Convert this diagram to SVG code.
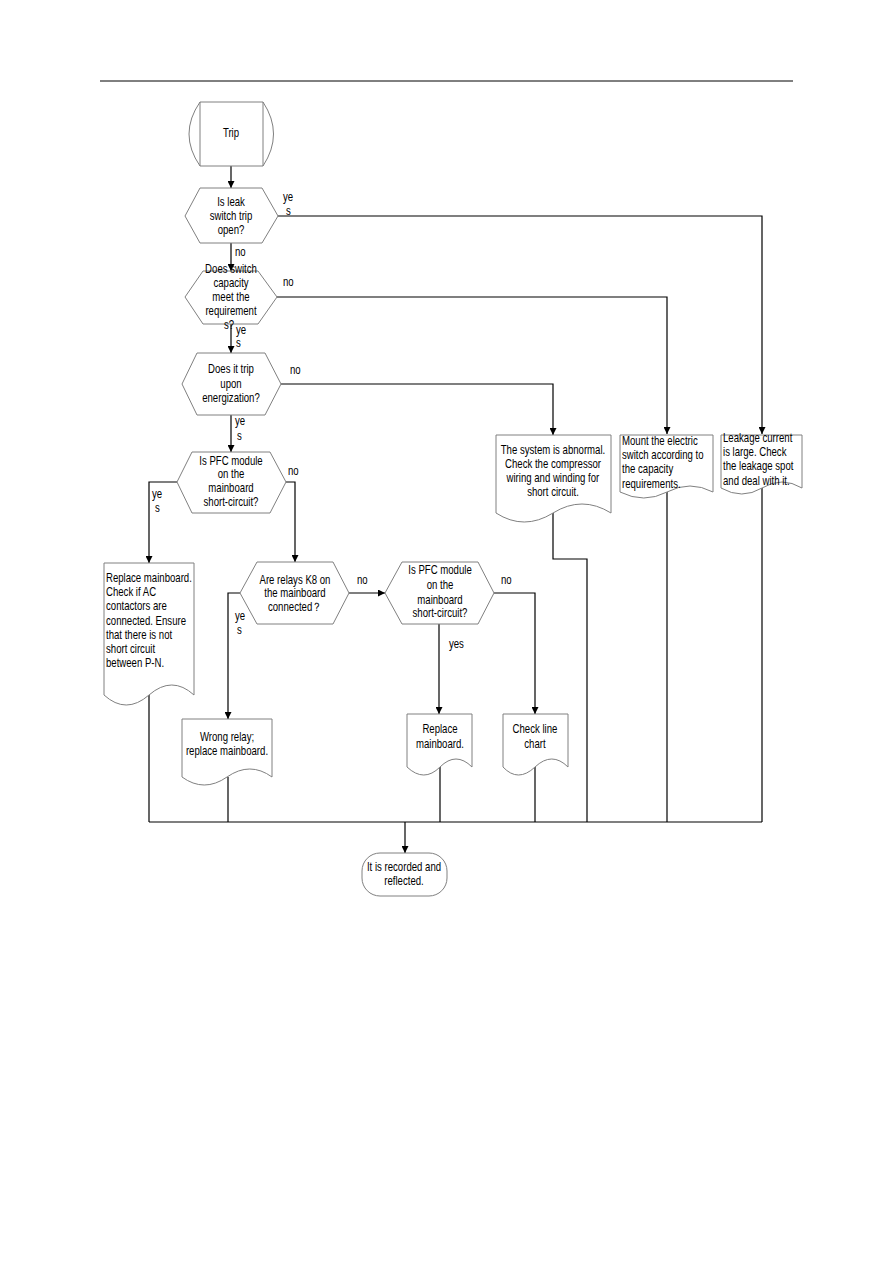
<svg xmlns="http://www.w3.org/2000/svg" width="893" height="1263" viewBox="0 0 893 1263">
<style>
.shape{fill:#fff;stroke:#808080;stroke-width:1}
.t{font-family:"Liberation Sans",Arial,sans-serif;font-size:12px;fill:#000;transform-box:fill-box;transform:scaleX(0.8);transform-origin:0% 50%}
.c{text-anchor:middle;transform-origin:50% 50%}
.conn path{fill:none;stroke:#000;stroke-width:1.2}
</style>
<defs>
<marker id="ah" viewBox="0 0 10 10" refX="10" refY="5" markerWidth="7" markerHeight="7" markerUnits="userSpaceOnUse" orient="auto">
<path d="M0,0 L10,5 L0,10 Z" fill="#000"/>
</marker>
</defs>
<rect width="893" height="1263" fill="#fff"/>
<line x1="100" y1="81" x2="793" y2="81" stroke="#000" stroke-width="1"/>

<g class="conn">
<path d="M231,166 V188" marker-end="url(#ah)"/>
<path d="M278,216 H762 V434" marker-end="url(#ah)"/>
<path d="M231,243 V271" marker-end="url(#ah)"/>
<path d="M277,297 H667 V434" marker-end="url(#ah)"/>
<path d="M231,324 V353" marker-end="url(#ah)"/>
<path d="M281,384 H553 V435" marker-end="url(#ah)"/>
<path d="M231,415 V452" marker-end="url(#ah)"/>
<path d="M177,482 H149 V563" marker-end="url(#ah)"/>
<path d="M286,482 H295 V562" marker-end="url(#ah)"/>
<path d="M240,593 H228 V719" marker-end="url(#ah)"/>
<path d="M349,593 H385" marker-end="url(#ah)"/>
<path d="M439,624 V714" marker-end="url(#ah)"/>
<path d="M494,593 H535 V714" marker-end="url(#ah)"/>
<path d="M149,695 V822"/>
<path d="M228,777 V822"/>
<path d="M440,767 V822"/>
<path d="M535,767 V822"/>
<path d="M553,513 V559 H587 V822"/>
<path d="M667,492 V822"/>
<path d="M762,488 V822"/>
<path d="M149,822 H762"/>
<path d="M405,822 V853" marker-end="url(#ah)"/>
<g>
<text class="t" x="283" y="201">ye</text><text class="t" x="286" y="215">s</text>
<text class="t" x="235" y="256">no</text>
<text class="t" x="283" y="286">no</text>
<text class="t" x="236" y="334">ye</text><text class="t" x="236" y="347">s</text>
<text class="t" x="290" y="374">no</text>
<text class="t" x="235" y="425">ye</text><text class="t" x="237" y="440">s</text>
<text class="t" x="152" y="498">ye</text><text class="t" x="155" y="512">s</text>
<text class="t" x="288" y="475">no</text>
<text class="t" x="235" y="620">ye</text><text class="t" x="237" y="634">s</text>
<text class="t" x="357" y="584">no</text>
<text class="t" x="449" y="648">yes</text>
<text class="t" x="501" y="584">no</text>
</g>
</g>

<g id="trip">
<path class="shape" d="M200,102 H263 V166 H200 Z M200,102 Q178,134 200,166 M263,102 Q284,134 263,166"/>
<text class="t c" x="231" y="137">Trip</text>
</g>

<g id="q-leak">
<polygon class="shape" points="200,188 262,188 278,216 262,243 200,243 185,216"/>
<text class="t c" x="231" y="206">Is leak</text>
<text class="t c" x="231" y="220">switch trip</text>
<text class="t c" x="231" y="234">open?</text>
</g>

<g id="q-capacity">
<polygon class="shape" points="203,271 258,271 277,297 258,324 203,324 185,297"/>
<text class="t c" x="231" y="273">Does switch</text>
<text class="t c" x="231" y="287">capacity</text>
<text class="t c" x="231" y="301">meet the</text>
<text class="t c" x="231" y="315">requirement</text>
<text class="t c" x="229" y="329">s?</text>
</g>

<g id="q-energize">
<polygon class="shape" points="197,353 265,353 281,384 265,415 197,415 182,384"/>
<text class="t c" x="231" y="373">Does it trip</text>
<text class="t c" x="231" y="388">upon</text>
<text class="t c" x="231" y="402">energization?</text>
</g>

<g id="q-pfc1">
<polygon class="shape" points="192,452 270,452 286,482 270,513 192,513 177,482"/>
<text class="t c" x="231" y="465">Is PFC module</text>
<text class="t c" x="231" y="478">on the</text>
<text class="t c" x="231" y="492">mainboard</text>
<text class="t c" x="231" y="506">short-circuit?</text>
</g>

<g id="q-relay">
<polygon class="shape" points="257,562 333,562 349,593 333,624 257,624 240,593"/>
<text class="t c" x="295" y="584">Are relays K8 on</text>
<text class="t c" x="295" y="597">the mainboard</text>
<text class="t c" x="295" y="611">connected？</text>
</g>

<g id="q-pfc2">
<polygon class="shape" points="402,562 478,562 494,593 478,624 402,624 385,593"/>
<text class="t c" x="440" y="574">Is PFC module</text>
<text class="t c" x="440" y="589">on the</text>
<text class="t c" x="440" y="604">mainboard</text>
<text class="t c" x="440" y="617">short-circuit?</text>
</g>

<g id="doc-system">
<path class="shape" d="M496,435 H611 V513 Q582,495 553,513 T496,513 Z"/>
<text class="t c" x="553" y="454">The system is abnormal.</text>
<text class="t c" x="553" y="468">Check the compressor</text>
<text class="t c" x="553" y="482">wiring and winding for</text>
<text class="t c" x="553" y="496">short circuit.</text>
</g>

<g id="doc-mount">
<path class="shape" d="M620,435 H713 V492 Q690,480 667,492 T620,492 Z"/>
<text class="t" x="622" y="445">Mount the electric</text>
<text class="t" x="622" y="459">switch according to</text>
<text class="t" x="622" y="473">the capacity</text>
<text class="t" x="622" y="488">requirements.</text>
</g>

<g id="doc-leakage">
<path class="shape" d="M721,435 H802 V488 Q782,476 762,488 T721,488 Z"/>
<text class="t" x="723" y="442">Leakage current</text>
<text class="t" x="723" y="456">is large. Check</text>
<text class="t" x="723" y="470">the leakage spot</text>
<text class="t" x="723" y="485">and deal with it.</text>
</g>

<g id="doc-replace1">
<path class="shape" d="M104,563 H194 V695 Q172,675 149,695 T104,695 Z"/>
<text class="t" x="106" y="582">Replace mainboard.</text>
<text class="t" x="106" y="596">Check if AC</text>
<text class="t" x="106" y="610">contactors are</text>
<text class="t" x="106" y="625">connected. Ensure</text>
<text class="t" x="106" y="639">that there is not</text>
<text class="t" x="106" y="653">short circuit</text>
<text class="t" x="106" y="667">between P-N.</text>
</g>

<g id="doc-wrong-relay">
<path class="shape" d="M182,719 H272 V777 Q250,761 227,777 T182,777 Z"/>
<text class="t c" x="227" y="741">Wrong relay;</text>
<text class="t c" x="227" y="755">replace  mainboard.</text>
</g>

<g id="doc-replace2">
<path class="shape" d="M407,714 H472 V767 Q456,751 440,767 T407,767 Z"/>
<text class="t c" x="440" y="733">Replace</text>
<text class="t c" x="440" y="748">mainboard.</text>
</g>

<g id="doc-check">
<path class="shape" d="M503,714 H568 V767 Q552,751 535,767 T503,767 Z"/>
<text class="t c" x="535" y="733">Check line</text>
<text class="t c" x="535" y="748">chart</text>
</g>

<g id="end">
<rect class="shape" x="362" y="853" width="85" height="43" rx="18" ry="18"/>
<text class="t c" x="404" y="871">It is recorded and</text>
<text class="t c" x="404" y="885">reflected.</text>
</g>
</svg>
